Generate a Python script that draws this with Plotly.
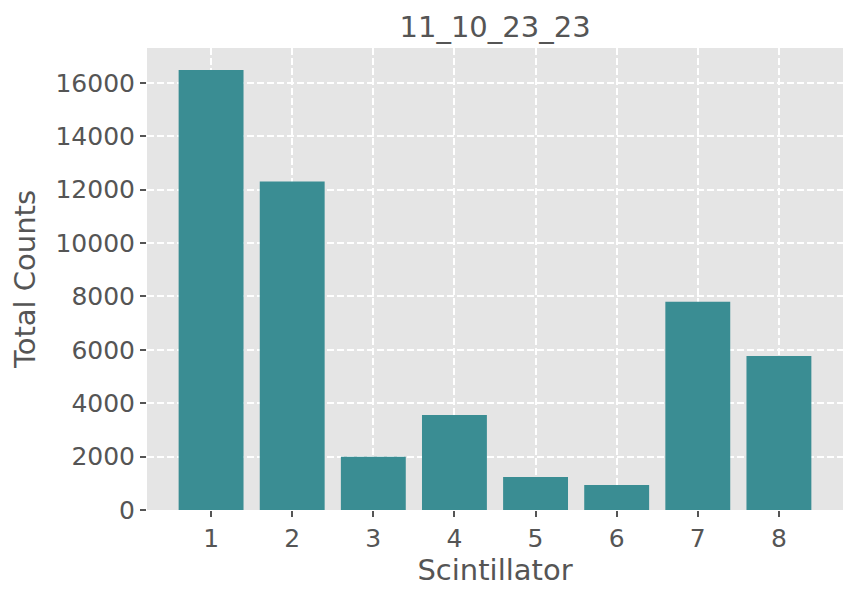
import plotly.graph_objects as go

scintillators = [1, 2, 3, 4, 5, 6, 7, 8]
total_counts = [16480, 12300, 1990, 3560, 1240, 940, 7800, 5770]
y_ticks = [0, 2000, 4000, 6000, 8000, 10000, 12000, 14000, 16000]

fig = go.Figure(go.Bar(x=scintillators, y=total_counts, marker_color="#3A8D93",
                       marker_line_width=0, width=0.8))

font_color = "#555555"
fig.update_layout(
    width=850, height=593,
    paper_bgcolor="white", plot_bgcolor="#E5E5E5",
    font=dict(family="DejaVu Sans", color=font_color, size=25),
    margin=dict(l=139, r=15, t=40, b=91),
    title=dict(text="11_10_23_23", x=0.573, xanchor="center", xref="container",
               y=0.968, yanchor="middle", yref="container",
               font=dict(size=29, color=font_color)),
    showlegend=False,
)
grid = dict(showgrid=True, gridcolor="white", griddash="7px,3px", gridwidth=1.5,
            zeroline=False, showline=False, ticks="outside", ticklen=6, tickwidth=1.5,
            tickcolor="#555555", tickfont=dict(size=25, color=font_color))
fig.update_xaxes(
    range=[0.21, 8.79], tickvals=scintillators,
    title=dict(text="Scintillator", font=dict(size=29, color=font_color), standoff=5),
    **grid,
)
fig.update_yaxes(
    range=[0, 17304], tickvals=y_ticks, tickformat="d",
    title=dict(text="Total Counts", font=dict(size=29, color=font_color), standoff=12),
    **grid,
)
fig.write_html("out.html")
